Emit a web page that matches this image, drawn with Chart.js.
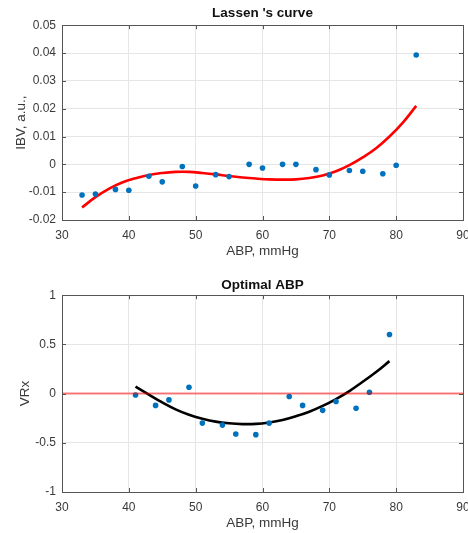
<!DOCTYPE html>
<html>
<head>
<meta charset="utf-8">
<script src="https://cdn.jsdelivr.net/npm/chart.js@4.4.1/dist/chart.umd.min.js"></script>
<style>
    body { margin: 0; background: #fff; }
    .box { position: absolute; left: 0; width: 468px; }
</style>
</head>
<body>
<div class="box" style="top:0;height:268px"><canvas id="lassenChart" width="468" height="268"></canvas></div>
<div class="box" style="top:268px;height:265px"><canvas id="vrxChart" width="468" height="265"></canvas></div>
<script>
// Lassen's curve - diem do
const abpPoints = [33, 35, 38, 40, 43, 45, 48, 50, 53, 55, 58, 60, 63, 65, 68, 70, 73, 75, 78, 80, 83];
const ibvPoints = [-0.0110, -0.0107, -0.0090, -0.0093, -0.0043, -0.0063, -0.0008, -0.0078, -0.0037, -0.0044,
    0.0000, -0.0013, 0.0000, 0.0000, -0.0019, -0.0038, -0.0022, -0.0025, -0.0034, -0.0003, 0.0393];

// duong cong khop (doc tu hinh)
const abpFit = [33, 35, 37, 39, 41, 43, 45, 47, 49, 51, 53, 55, 57, 59, 61, 63, 65, 67, 69, 71, 73, 75, 77, 79, 81, 83];
const ibvFit = [-0.0155, -0.0118, -0.0088, -0.0065, -0.0050, -0.0038, -0.0031, -0.0027, -0.0027, -0.0031, -0.0036,
    -0.0042, -0.0047, -0.0051, -0.0054, -0.0055, -0.0054, -0.0049, -0.0040, -0.0025, -0.0003, 0.0025, 0.0058,
    0.0100, 0.0150, 0.0210];

// Optimal ABP - diem do
const abpVrx = [41, 44, 46, 49, 51, 54, 56, 59, 61, 64, 66, 69, 71, 74, 76, 79];
const vrxPoints = [-0.014, -0.12, -0.064, 0.064, -0.30, -0.32, -0.41, -0.417, -0.30, -0.03, -0.12, -0.17, -0.08,
    -0.15, 0.014, 0.60];

const abpVrxFit = [41, 43, 45, 47, 49, 51, 53, 55, 57, 59, 61, 63, 65, 67, 69, 71, 73, 75, 77, 79];
const vrxFit = [0.071, -0.010, -0.090, -0.160, -0.215, -0.255, -0.285, -0.302, -0.310, -0.308, -0.293, -0.268,
    -0.230, -0.184, -0.125, -0.055, 0.026, 0.120, 0.220, 0.330];

const zeroLineX = [30, 90];
const zeroLineY = [0, 0];

const xTicks = { min: 30, max: 90, step: 10 };
const ibvTicks = { min: -0.02, max: 0.05, step: 0.01 };
const vrxTicks = { min: -1, max: 1, step: 0.5 };

const FONT = "'Liberation Sans', Arial, sans-serif";
const TEXT = '#3a3a3a';

function toXY(xs, ys) {
    return xs.map((x, i) => ({ x: x, y: ys[i] }));
}

// Ve khung hop va vach chia ben trong (kieu MATLAB)
const framePlugin = {
    id: 'frame',
    afterDatasetsDraw(chart) {
        const { ctx, chartArea: a, scales } = chart;
        ctx.save();
        ctx.strokeStyle = '#555';
        ctx.lineWidth = 1;
        ctx.strokeRect(Math.round(a.left) + 0.5, Math.round(a.top) + 0.5,
            Math.round(a.right - a.left), Math.round(a.bottom - a.top));
        ctx.beginPath();
        scales.x.ticks.forEach(t => {
            const px = Math.round(scales.x.getPixelForValue(t.value)) + 0.5;
            ctx.moveTo(px, a.bottom); ctx.lineTo(px, a.bottom - 4);
            ctx.moveTo(px, a.top); ctx.lineTo(px, a.top + 4);
        });
        scales.y.ticks.forEach(t => {
            const py = Math.round(scales.y.getPixelForValue(t.value)) + 0.5;
            ctx.moveTo(a.left, py); ctx.lineTo(a.left + 4, py);
            ctx.moveTo(a.right, py); ctx.lineTo(a.right - 4, py);
        });
        ctx.stroke();
        ctx.restore();
    }
};

function buildOptions(cfg) {
    return {
        responsive: false,
        animation: false,
        layout: { autoPadding: false, padding: { left: 0, right: 5, top: 0, bottom: 0 } },
        plugins: {
            legend: { display: false },
            tooltip: { enabled: false },
            title: {
                display: true,
                fullSize: false, // can giua theo vung ve
                text: cfg.title,
                color: '#111',
                font: { family: FONT, size: 13.5, weight: 'bold' },
                padding: cfg.titlePad
            }
        },
        scales: {
            x: {
                type: 'linear',
                min: xTicks.min,
                max: xTicks.max,
                ticks: {
                    stepSize: xTicks.step,
                    color: TEXT,
                    padding: 8,
                    font: { family: FONT, size: 12 },
                    maxRotation: 0
                },
                grid: { color: '#e6e6e6', drawTicks: false },
                border: { display: false },
                title: {
                    display: true,
                    text: 'ABP, mmHg',
                    color: TEXT,
                    font: { family: FONT, size: 13.5 },
                    padding: { top: 0, bottom: cfg.xTitleBottom }
                },
                afterFit: s => {
                    s.height = cfg.xHeight;
                    s.paddingLeft = 0;
                    s.paddingRight = 0;
                }
            },
            y: {
                type: 'linear',
                min: cfg.yTicks.min,
                max: cfg.yTicks.max,
                ticks: {
                    stepSize: cfg.yTicks.step,
                    color: TEXT,
                    padding: 6,
                    font: { family: FONT, size: 12 },
                    callback: v => Number(v.toFixed(3)).toString()
                },
                grid: { color: '#e6e6e6', drawTicks: false },
                border: { display: false },
                title: {
                    display: true,
                    text: cfg.yLabel,
                    color: TEXT,
                    font: { family: FONT, size: 13.5 },
                    padding: { top: cfg.yTitleLeft, bottom: 0 }
                },
                afterFit: s => {
                    s.width = 62;
                    s.paddingTop = 0;
                    s.paddingBottom = 0;
                }
            }
        }
    };
}

let lassenChart = new Chart(document.getElementById('lassenChart').getContext('2d'), {
    type: 'scatter',
    data: {
        datasets: [
            {
                data: toXY(abpPoints, ibvPoints),
                backgroundColor: '#0072BD',
                borderColor: '#0072BD',
                pointRadius: 2.8,
                pointBorderWidth: 0
            },
            {
                data: toXY(abpFit, ibvFit),
                showLine: true,
                borderColor: '#ff0000',
                borderWidth: 2.6,
                pointRadius: 0,
                tension: 0.4
            }
        ]
    },
    options: buildOptions({
        title: "Lassen 's curve",
        titlePad: { top: 5, bottom: 4 },
        yTicks: ibvTicks,
        yLabel: 'IBV, a.u.,',
        yTitleLeft: 13,
        xHeight: 48,
        xTitleBottom: 9
    }),
    plugins: [framePlugin]
});

let vrxChart = new Chart(document.getElementById('vrxChart').getContext('2d'), {
    type: 'scatter',
    data: {
        datasets: [
            {
                data: toXY(zeroLineX, zeroLineY),
                showLine: true,
                borderColor: 'rgba(255, 0, 0, 0.5)',
                borderWidth: 2,
                pointRadius: 0
            },
            {
                data: toXY(abpVrx, vrxPoints),
                backgroundColor: '#0072BD',
                borderColor: '#0072BD',
                pointRadius: 2.8,
                pointBorderWidth: 0
            },
            {
                data: toXY(abpVrxFit, vrxFit),
                showLine: true,
                borderColor: '#000000',
                borderWidth: 2.6,
                pointRadius: 0,
                tension: 0.4
            }
        ]
    },
    options: buildOptions({
        title: 'Optimal ABP',
        titlePad: { top: 9, bottom: 2 },
        yTicks: vrxTicks,
        yLabel: 'VRx',
        yTitleLeft: 17,
        xHeight: 41,
        xTitleBottom: 2
    }),
    plugins: [framePlugin]
});
</script>
</body>
</html>
